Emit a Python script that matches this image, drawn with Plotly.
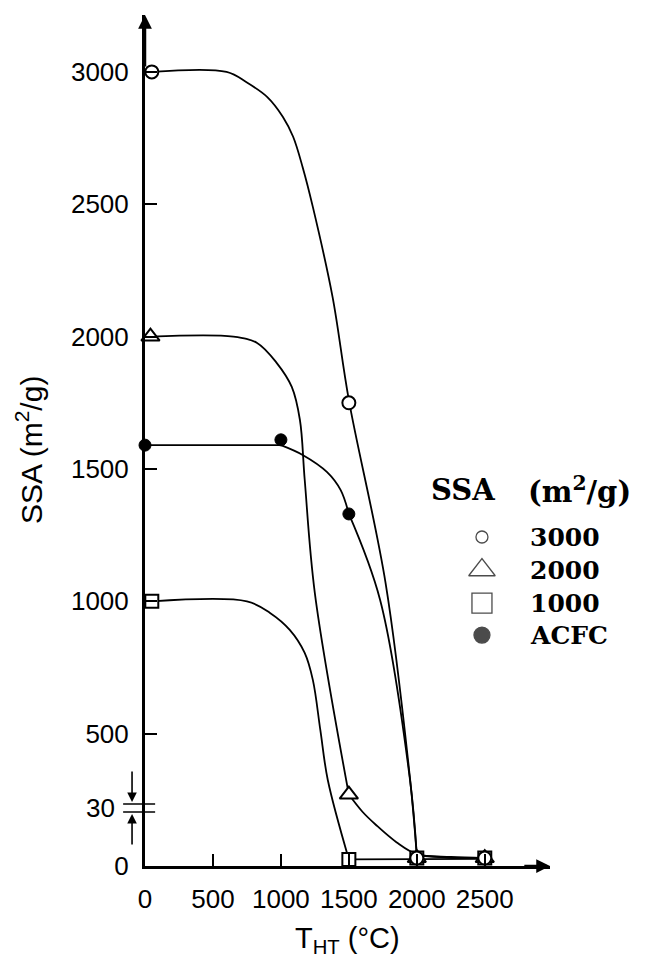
import plotly.graph_objects as go

# Measured specific surface area of activated carbon fibres after heat treatment
x_3000 = [50, 1500, 2000, 2500]
y_3000 = [3000, 1750, 30, 30]
x_2000 = [40, 1500, 2000, 2500]
y_2000 = [2000, 270, 30, 30]
x_1000 = [50, 1500, 2000, 2500]
y_1000 = [1000, 25, 30, 30]
x_acfc = [0, 1000, 1500, 2000, 2500]
y_acfc = [1590, 1610, 1330, 30, 30]

# Hand-drawn guide curves, one list of knots per smooth stroke
curve_3000_a_x = [50, 600, 750, 900, 1015, 1090, 1160, 1235, 1380, 1500, 1770, 1950, 2000]
curve_3000_a_y = [3000, 3000, 2960, 2905, 2830, 2755, 2640, 2490, 2150, 1760, 1070, 330, 40]
curve_3000_b_x = [2000, 2250, 2500]
curve_3000_b_y = [40, 32, 30]

curve_2000_a_x = [40, 650, 825, 970, 1080, 1140, 1175, 1250, 1500]
curve_2000_a_y = [2000, 2000, 1976, 1900, 1810, 1685, 1460, 1030, 270]
curve_2000_b_x = [1500, 1600, 1700, 1850, 2000, 2250, 2500]
curve_2000_b_y = [270, 205, 155, 90, 45, 34, 30]

curve_1000_a_x = [50, 750, 920, 1065, 1175, 1235, 1290, 1345, 1500]
curve_1000_a_y = [1000, 1000, 956, 892, 805, 703, 514, 325, 25]
curve_1000_b_x = [1500, 2000, 2500]
curve_1000_b_y = [25, 26, 27]

curve_acfc_a_x = [0, 1000]
curve_acfc_a_y = [1590, 1590]
curve_acfc_b_x = [1000, 1160, 1340, 1440, 1500]
curve_acfc_b_y = [1590, 1553, 1488, 1420, 1330]
curve_acfc_c_x = [1500, 1730, 1950, 2000]
curve_acfc_c_y = [1330, 1005, 325, 40]
curve_acfc_d_x = [2000, 2250, 2500]
curve_acfc_d_y = [40, 31, 30]

strokes = [
    (curve_3000_a_x, curve_3000_a_y), (curve_3000_b_x, curve_3000_b_y),
    (curve_2000_a_x, curve_2000_a_y), (curve_2000_b_x, curve_2000_b_y),
    (curve_1000_a_x, curve_1000_a_y), (curve_1000_b_x, curve_1000_b_y),
    (curve_acfc_a_x, curve_acfc_a_y), (curve_acfc_b_x, curve_acfc_b_y),
    (curve_acfc_c_x, curve_acfc_c_y), (curve_acfc_d_x, curve_acfc_d_y),
]

x_ticks = [0, 500, 1000, 1500, 2000, 2500]
y_ticks = [0, 500, 1000, 1500, 2000, 2500, 3000]

legend_title_left = "SSA"
legend_title_right = "(m<sup>2</sup>/g)"
legend_labels = ["3000", "2000", "1000", "ACFC"]
legend_rows = [0.3866, 0.3478, 0.309, 0.2714]

X_MAX = 2980
Y_MAX = 3215
SANS = "Liberation Sans"
SERIF = "DejaVu Serif"

fig = go.Figure()

curve_style = dict(color="black", width=1.8, shape="spline", smoothing=1.0)
for cx, cy in strokes:
    fig.add_trace(go.Scatter(x=cx, y=cy, mode="lines", line=curve_style,
                             hoverinfo="skip", showlegend=False, cliponaxis=False))

open_line = dict(color="black", width=2)
fig.add_trace(go.Scatter(x=x_acfc, y=y_acfc, mode="markers", showlegend=False, cliponaxis=False,
                         marker=dict(symbol="circle", size=12, color="black",
                                     line=dict(color="black", width=1))))
fig.add_trace(go.Scatter(x=x_1000, y=y_1000, mode="markers", showlegend=False, cliponaxis=False,
                         marker=dict(symbol="square", size=13, color="white", line=open_line)))
fig.add_trace(go.Scatter(x=x_2000, y=y_2000, mode="markers", showlegend=False, cliponaxis=False,
                         marker=dict(symbol="triangle-up", size=16, color="white", line=open_line)))
fig.add_trace(go.Scatter(x=x_3000, y=y_3000, mode="markers", showlegend=False, cliponaxis=False,
                         marker=dict(symbol="circle", size=13, color="white", line=open_line)))

# Key symbols drawn on a hidden overlay axis
key_x = [0.44] * 4
fig.add_trace(go.Scatter(
    x=key_x, y=legend_rows, xaxis="x2", yaxis="y2", mode="markers", showlegend=False,
    cliponaxis=False, hoverinfo="skip",
    marker=dict(symbol=["circle", "triangle-up", "square", "circle"],
                size=[12, 23, 20, 16],
                color=["white", "white", "white", "black"],
                line=dict(color="black", width=1.3))))

annotations = []
# Axis arrowheads
annotations.append(dict(x=0, y=Y_MAX, xref="x", yref="y", ax=0, ay=Y_MAX - 200,
                        axref="x", ayref="y", showarrow=True, arrowhead=2,
                        arrowsize=1.1, arrowwidth=2.5, arrowcolor="black", text=""))
annotations.append(dict(x=X_MAX, y=0, xref="x", yref="y", ax=X_MAX - 200, ay=0,
                        axref="x", ayref="y", showarrow=True, arrowhead=2,
                        arrowsize=1.1, arrowwidth=2.5, arrowcolor="black", text=""))
# Scale-break marker for the 30 m2/g level
annotations.append(dict(x=-0.032, y=0.0752, xref="paper", yref="paper", ax=0, ay=-32,
                        showarrow=True, arrowhead=2, arrowsize=1.2, arrowwidth=1.6,
                        arrowcolor="black", text=""))
annotations.append(dict(x=-0.032, y=0.0611, xref="paper", yref="paper", ax=0, ay=32,
                        showarrow=True, arrowhead=2, arrowsize=1.2, arrowwidth=1.6,
                        arrowcolor="black", text=""))
annotations.append(dict(x=-0.07, y=0.0682, xref="paper", yref="paper", xanchor="right",
                        yanchor="middle", text="30", showarrow=False,
                        font=dict(family=SANS, size=26, color="black")))
# Axis titles
annotations.append(dict(x=-0.286, y=0.489, xref="paper", yref="paper", textangle=-90,
                        xanchor="center", yanchor="middle",
                        text="SSA (m<sup>2</sup>/g)", showarrow=False,
                        font=dict(family=SANS, size=30, color="black")))
annotations.append(dict(x=0.5, y=-0.087, xref="paper", yref="paper",
                        xanchor="center", yanchor="middle",
                        text="T<sub>HT</sub> (°C)", showarrow=False,
                        font=dict(family=SANS, size=29, color="black")))
# Key title and labels
annotations.append(dict(x=0.70, y=0.442, xref="paper", yref="paper", xanchor="left",
                        yanchor="middle", text="<b>" + legend_title_left + "</b>", showarrow=False,
                        font=dict(family=SERIF, size=29, color="black")))
annotations.append(dict(x=0.94, y=0.442, xref="paper", yref="paper", xanchor="left",
                        yanchor="middle", text="<b>" + legend_title_right + "</b>", showarrow=False,
                        font=dict(family=SERIF, size=29, color="black")))
for lab, ry in zip(legend_labels, legend_rows):
    annotations.append(dict(x=0.946, y=ry, xref="paper", yref="paper", xanchor="left",
                            yanchor="middle", text="<b>" + lab + "</b>", showarrow=False,
                            font=dict(family=SERIF, size=25, color="black")))

shapes = []
for py in [0.0729, 0.0635]:
    shapes.append(dict(type="line", xref="paper", yref="paper", x0=-0.054, x1=0.025,
                       y0=py, y1=py, line=dict(color="black", width=1.6)))

fig.update_layout(
    width=650, height=959,
    margin=dict(l=145, r=100, t=15, b=93),
    paper_bgcolor="white", plot_bgcolor="rgba(0,0,0,0)",
    showlegend=False,
    annotations=annotations,
    shapes=shapes,
    xaxis=dict(range=[0, X_MAX], showgrid=False, zeroline=False,
               showline=True, linecolor="black", linewidth=3,
               ticks="inside", ticklen=12, tickwidth=2, tickcolor="black",
               tickvals=x_ticks, ticktext=[str(v) for v in x_ticks],
               ticklabelstandoff=8,
               tickfont=dict(family=SANS, size=26, color="black")),
    yaxis=dict(range=[0, Y_MAX], showgrid=False, zeroline=False,
               showline=True, linecolor="black", linewidth=3,
               ticks="inside", ticklen=12, tickwidth=2, tickcolor="black",
               tickvals=y_ticks, ticktext=[str(v) for v in y_ticks],
               ticklabelstandoff=8,
               tickfont=dict(family=SANS, size=26, color="black")),
    xaxis2=dict(domain=[0.7, 1.0], range=[0, 1], visible=False, anchor="y2"),
    yaxis2=dict(domain=[0, 1], range=[0, 1], visible=False, anchor="x2"),
)

fig.write_html("out.html")
